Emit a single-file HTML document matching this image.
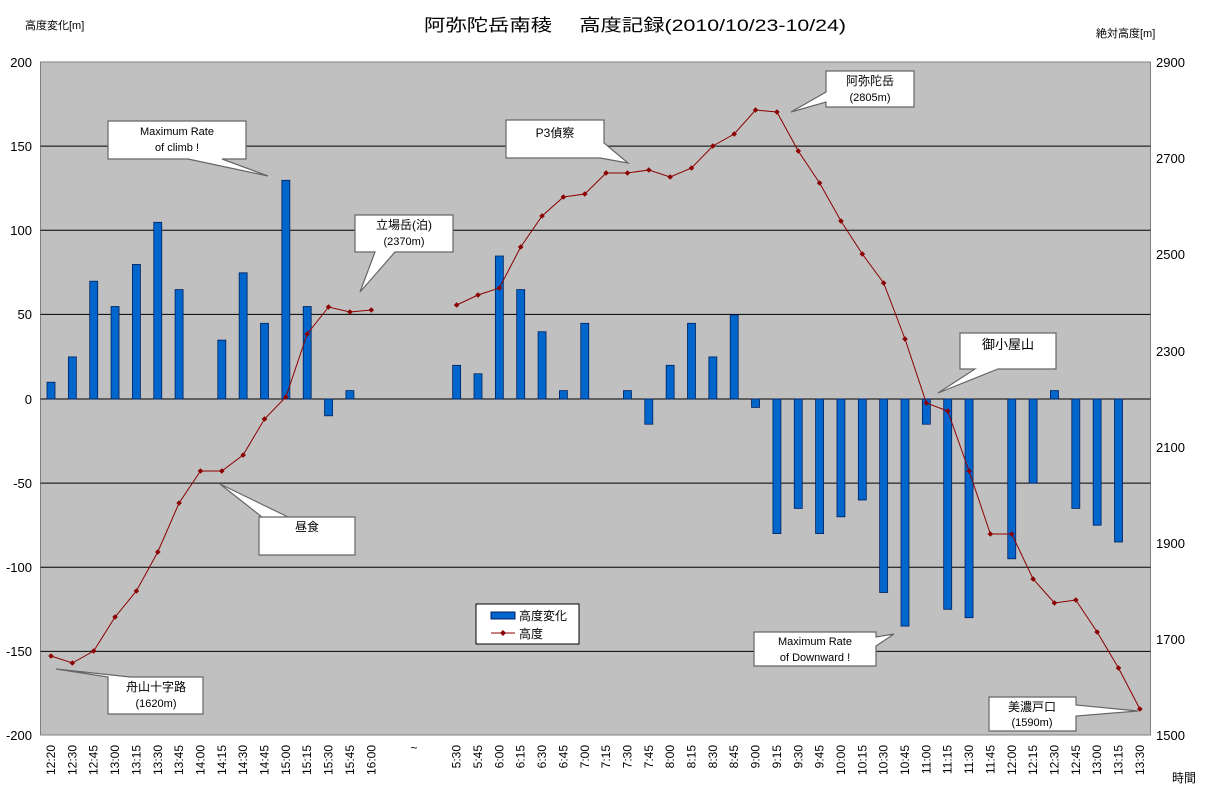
<!DOCTYPE html>
<html><head><meta charset="utf-8"><style>
html,body{margin:0;padding:0;background:#fff}
svg{display:block;font-family:"Liberation Sans","Noto Sans CJK JP",sans-serif}
</style></head><body>
<svg width="1214" height="795" viewBox="0 0 1214 795" xmlns="http://www.w3.org/2000/svg">
<defs>
<marker id="d" viewBox="-3 -3 6 6" markerWidth="6" markerHeight="6" markerUnits="userSpaceOnUse" refX="0" refY="0">
<path d="M0,-2.8 L2.8,0 L0,2.8 L-2.8,0 Z" fill="#8b0000"/>
</marker>
</defs>
<rect x="40.5" y="62" width="1110" height="673" fill="#c0c0c0" stroke="#808080"/>
<g stroke="#000" stroke-width="1">
<line x1="40.5" y1="146.1" x2="1150.5" y2="146.1"/>
<line x1="40.5" y1="230.3" x2="1150.5" y2="230.3"/>
<line x1="40.5" y1="314.4" x2="1150.5" y2="314.4"/>
<line x1="40.5" y1="399" x2="1150.5" y2="399"/>
<line x1="40.5" y1="483.1" x2="1150.5" y2="483.1"/>
<line x1="40.5" y1="567.3" x2="1150.5" y2="567.3"/>
<line x1="40.5" y1="651.4" x2="1150.5" y2="651.4"/>
</g>
<g fill="#0066cc" stroke="#002060" stroke-width="0.8">
<rect x="47" y="382.2" width="8" height="16.8"/>
<rect x="68.35" y="356.9" width="8" height="42.1"/>
<rect x="89.7" y="281.2" width="8" height="117.8"/>
<rect x="111.05" y="306.5" width="8" height="92.5"/>
<rect x="132.4" y="264.4" width="8" height="134.6"/>
<rect x="153.75" y="222.3" width="8" height="176.7"/>
<rect x="175.1" y="289.6" width="8" height="109.4"/>
<rect x="217.8" y="340.1" width="8" height="58.9"/>
<rect x="239.15" y="272.8" width="8" height="126.2"/>
<rect x="260.5" y="323.3" width="8" height="75.7"/>
<rect x="281.85" y="180.3" width="8" height="218.7"/>
<rect x="303.2" y="306.5" width="8" height="92.5"/>
<rect x="324.55" y="399" width="8" height="16.8"/>
<rect x="345.9" y="390.6" width="8" height="8.4"/>
<rect x="452.65" y="365.3" width="8" height="33.7"/>
<rect x="474" y="373.8" width="8" height="25.2"/>
<rect x="495.35" y="256" width="8" height="143"/>
<rect x="516.7" y="289.6" width="8" height="109.4"/>
<rect x="538.05" y="331.7" width="8" height="67.3"/>
<rect x="559.4" y="390.6" width="8" height="8.4"/>
<rect x="580.75" y="323.3" width="8" height="75.7"/>
<rect x="623.45" y="390.6" width="8" height="8.4"/>
<rect x="644.8" y="399" width="8" height="25.2"/>
<rect x="666.15" y="365.3" width="8" height="33.7"/>
<rect x="687.5" y="323.3" width="8" height="75.7"/>
<rect x="708.85" y="356.9" width="8" height="42.1"/>
<rect x="730.2" y="314.9" width="8" height="84.1"/>
<rect x="751.55" y="399" width="8" height="8.4"/>
<rect x="772.9" y="399" width="8" height="134.6"/>
<rect x="794.25" y="399" width="8" height="109.4"/>
<rect x="815.6" y="399" width="8" height="134.6"/>
<rect x="836.95" y="399" width="8" height="117.8"/>
<rect x="858.3" y="399" width="8" height="101"/>
<rect x="879.65" y="399" width="8" height="193.5"/>
<rect x="901" y="399" width="8" height="227.1"/>
<rect x="922.35" y="399" width="8" height="25.2"/>
<rect x="943.7" y="399" width="8" height="210.3"/>
<rect x="965.05" y="399" width="8" height="218.7"/>
<rect x="1007.75" y="399" width="8" height="159.8"/>
<rect x="1029.1" y="399" width="8" height="84.1"/>
<rect x="1050.45" y="390.6" width="8" height="8.4"/>
<rect x="1071.8" y="399" width="8" height="109.4"/>
<rect x="1093.15" y="399" width="8" height="126.2"/>
<rect x="1114.5" y="399" width="8" height="143"/>
</g>
<g fill="none" stroke="#8b0000" stroke-width="1" marker-start="url(#d)" marker-mid="url(#d)" marker-end="url(#d)">
<polyline points="51,656 72.35,663 93.7,651 115.05,617 136.4,591 157.75,552 179.1,503 200.45,471 221.8,471 243.15,455 264.5,419 285.85,397 307.2,334 328.55,307 349.9,312 371.25,310"/>
<polyline points="456.65,305 478,295 499.35,288 520.7,247 542.05,216 563.4,197 584.75,194 606.1,173 627.45,173 648.8,170 670.15,177 691.5,168 712.85,146 734.2,134 755.55,110 776.9,112 798.25,151 819.6,183 840.95,221 862.3,254 883.65,283 905,339 926.35,403 947.7,411 969.05,471 990.4,534 1011.75,534 1033.1,579 1054.45,603 1075.8,600 1097.15,632 1118.5,668 1139.85,709"/>
</g>
<g fill="#fff" stroke="#666" stroke-width="1.2">
<path d="M108,121 H246 V159 H222 L268,176 L188,159 H108 Z"/>
<path d="M355,215 H453 V252 H395 L360,292 L375,252 H355 Z"/>
<path d="M506,120 H604 V143 L628,163 L600,158 H506 Z"/>
<path d="M826,71 H914 V107 H826 V102 L791,112 L826,92 Z"/>
<path d="M960,333 H1056 V369 H998 L938,393 L975,369 H960 Z"/>
<path d="M259,517 H355 V555 H259 V517 H288 L220,484 L262,517 Z"/>
<path d="M108,677 L56,669 L130,677 H203 V714 H108 Z"/>
<path d="M754,632 H876 V637 L894,634 L876,646 V666 H754 Z"/>
<path d="M989,697 H1076 V705 L1138,711 L1076,716 V731 H989 Z"/>
</g>
<g font-size="11" fill="#000" text-anchor="middle">
<text x="177" y="135">Maximum Rate</text><text x="177" y="151">of climb !</text>
<text x="404" y="229" font-size="12">立場岳(泊)</text><text x="404" y="245">(2370m)</text>
<text x="555" y="137" font-size="12">P3偵察</text>
<text x="870" y="85" font-size="12">阿弥陀岳</text><text x="870" y="101">(2805m)</text>
<text x="1008" y="349" font-size="13">御小屋山</text>
<text x="307" y="531" font-size="12">昼食</text>
<text x="156" y="691" font-size="12">舟山十字路</text><text x="156" y="707">(1620m)</text>
<text x="815" y="645">Maximum Rate</text><text x="815" y="661">of Downward !</text>
<text x="1032" y="711" font-size="12">美濃戸口</text><text x="1032" y="726">(1590m)</text>
</g>
<rect x="476" y="604" width="103" height="40" fill="#fff" stroke="#000"/>
<rect x="491" y="612" width="24" height="7" fill="#0066cc" stroke="#002060"/>
<text x="519" y="620" font-size="12">高度変化</text>
<line x1="491" y1="633" x2="515" y2="633" stroke="#8b0000"/>
<path d="M503,630 L506,633 L503,636 L500,633 Z" fill="#8b0000"/>
<text x="519" y="638" font-size="12">高度</text>
<text x="424" y="31" font-size="17" textLength="422" lengthAdjust="spacingAndGlyphs">阿弥陀岳南稜　 高度記録(2010/10/23-10/24)</text>
<text x="25" y="29" font-size="11">高度変化[m]</text>
<text x="1096" y="37" font-size="11">絶対高度[m]</text>
<text x="1172" y="782" font-size="12">時間</text>
<g font-size="13" text-anchor="end">
<text x="32" y="67">200</text><text x="32" y="151">150</text><text x="32" y="235">100</text><text x="32" y="319">50</text><text x="32" y="404">0</text><text x="32" y="488">-50</text><text x="32" y="572">-100</text><text x="32" y="656">-150</text><text x="32" y="740">-200</text>
</g>
<g font-size="13">
<text x="1156" y="67">2900</text><text x="1156" y="163">2700</text><text x="1156" y="259">2500</text><text x="1156" y="356">2300</text><text x="1156" y="452">2100</text><text x="1156" y="548">1900</text><text x="1156" y="644">1700</text><text x="1156" y="740">1500</text>
</g>
<g font-size="12" text-anchor="end">
<text transform="translate(55,745) rotate(-90)">12:20</text>
<text transform="translate(76.35,745) rotate(-90)">12:30</text>
<text transform="translate(97.7,745) rotate(-90)">12:45</text>
<text transform="translate(119.05,745) rotate(-90)">13:00</text>
<text transform="translate(140.4,745) rotate(-90)">13:15</text>
<text transform="translate(161.75,745) rotate(-90)">13:30</text>
<text transform="translate(183.1,745) rotate(-90)">13:45</text>
<text transform="translate(204.45,745) rotate(-90)">14:00</text>
<text transform="translate(225.8,745) rotate(-90)">14:15</text>
<text transform="translate(247.15,745) rotate(-90)">14:30</text>
<text transform="translate(268.5,745) rotate(-90)">14:45</text>
<text transform="translate(289.85,745) rotate(-90)">15:00</text>
<text transform="translate(311.2,745) rotate(-90)">15:15</text>
<text transform="translate(332.55,745) rotate(-90)">15:30</text>
<text transform="translate(353.9,745) rotate(-90)">15:45</text>
<text transform="translate(375.25,745) rotate(-90)">16:00</text>
<text transform="translate(460.65,745) rotate(-90)">5:30</text>
<text transform="translate(482,745) rotate(-90)">5:45</text>
<text transform="translate(503.35,745) rotate(-90)">6:00</text>
<text transform="translate(524.7,745) rotate(-90)">6:15</text>
<text transform="translate(546.05,745) rotate(-90)">6:30</text>
<text transform="translate(567.4,745) rotate(-90)">6:45</text>
<text transform="translate(588.75,745) rotate(-90)">7:00</text>
<text transform="translate(610.1,745) rotate(-90)">7:15</text>
<text transform="translate(631.45,745) rotate(-90)">7:30</text>
<text transform="translate(652.8,745) rotate(-90)">7:45</text>
<text transform="translate(674.15,745) rotate(-90)">8:00</text>
<text transform="translate(695.5,745) rotate(-90)">8:15</text>
<text transform="translate(716.85,745) rotate(-90)">8:30</text>
<text transform="translate(738.2,745) rotate(-90)">8:45</text>
<text transform="translate(759.55,745) rotate(-90)">9:00</text>
<text transform="translate(780.9,745) rotate(-90)">9:15</text>
<text transform="translate(802.25,745) rotate(-90)">9:30</text>
<text transform="translate(823.6,745) rotate(-90)">9:45</text>
<text transform="translate(844.95,745) rotate(-90)">10:00</text>
<text transform="translate(866.3,745) rotate(-90)">10:15</text>
<text transform="translate(887.65,745) rotate(-90)">10:30</text>
<text transform="translate(909,745) rotate(-90)">10:45</text>
<text transform="translate(930.35,745) rotate(-90)">11:00</text>
<text transform="translate(951.7,745) rotate(-90)">11:15</text>
<text transform="translate(973.05,745) rotate(-90)">11:30</text>
<text transform="translate(994.4,745) rotate(-90)">11:45</text>
<text transform="translate(1015.75,745) rotate(-90)">12:00</text>
<text transform="translate(1037.1,745) rotate(-90)">12:15</text>
<text transform="translate(1058.45,745) rotate(-90)">12:30</text>
<text transform="translate(1079.8,745) rotate(-90)">12:45</text>
<text transform="translate(1101.15,745) rotate(-90)">13:00</text>
<text transform="translate(1122.5,745) rotate(-90)">13:15</text>
<text transform="translate(1143.85,745) rotate(-90)">13:30</text>
</g>
<text x="414" y="752" font-size="12" text-anchor="middle">~</text>
</svg>
</body></html>
